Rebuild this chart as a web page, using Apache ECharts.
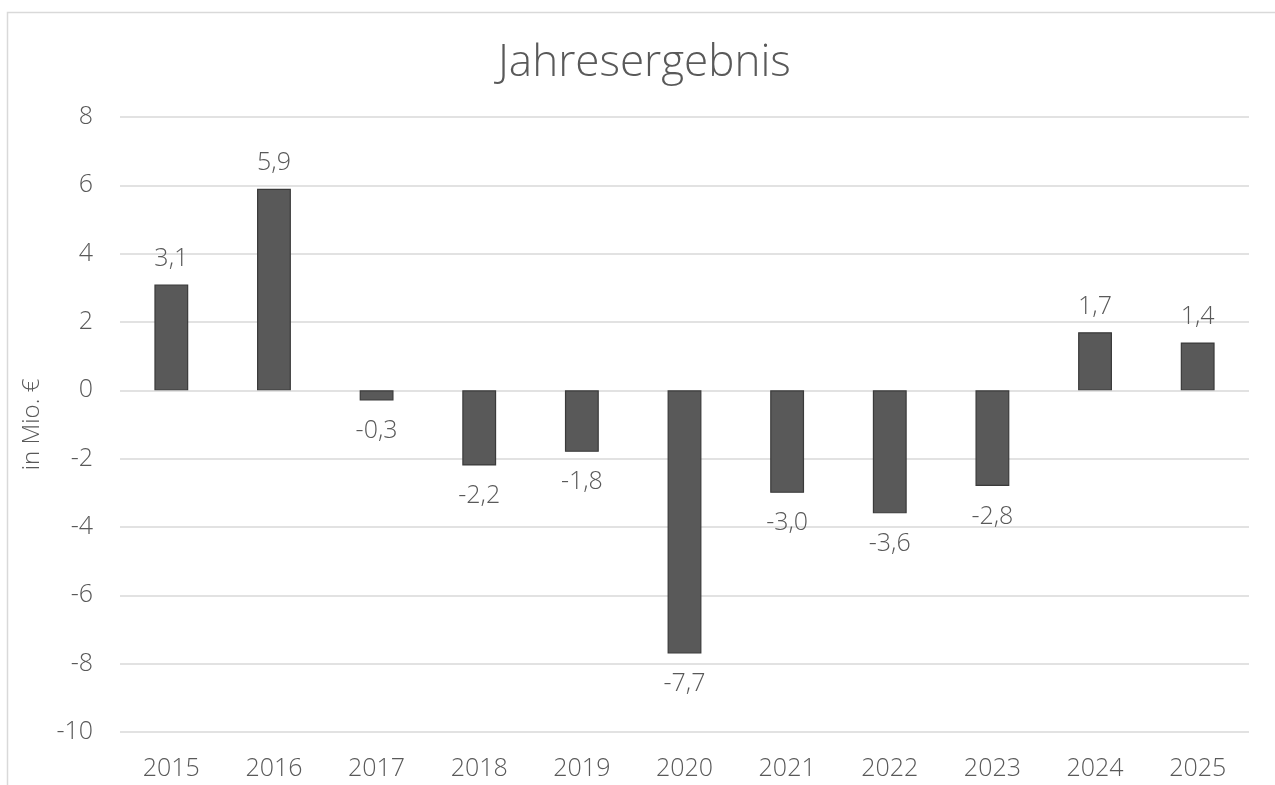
<!DOCTYPE html>
<html><head><meta charset="utf-8">
<script src="https://cdn.jsdelivr.net/npm/echarts@6/dist/echarts.min.js"></script>
<style>html,body{margin:0;padding:0;background:#fff}#c{width:1275px;height:785px}</style>
</head><body><div id="c"></div>
<script>
const categories = ['2015','2016','2017','2018','2019','2020','2021','2022','2023','2024','2025'];
const values = [3.1, 5.9, -0.3, -2.2, -1.8, -7.7, -3.0, -3.6, -2.8, 1.7, 1.4];
const yMin = -10, yMax = 8, yStep = 2;
const FONT = 'Open Sans';
const chart = echarts.init(document.getElementById('c'));
chart.setOption({
  animation: false,
  backgroundColor: '#fff',
  graphic: [{type:'rect', shape:{x:7.5,y:12.5,width:1300,height:800}, style:{fill:'none',stroke:'#d9d9d9',lineWidth:1.5}, silent:true}],
  title: {text:'Jahresergebnis', left:493, top:36, textStyle:{fontFamily:FONT, fontWeight:300, fontSize:44, color:'#595959'}},
  grid: {left:120, right:26, top:117, bottom:53},
  xAxis: {type:'category', data:categories, axisLine:{show:false}, axisTick:{show:false},
    axisLabel:{fontFamily:FONT, fontWeight:300, fontSize:25, color:'#595959', margin:24}},
  yAxis: {type:'value', min:yMin, max:yMax, interval:yStep,
    name:'in Mio. €', nameLocation:'middle', nameGap:76, nameRotate:90,
    nameTextStyle:{fontFamily:FONT, fontWeight:300, fontSize:24, color:'#595959'},
    axisLine:{show:false}, axisTick:{show:false},
    axisLabel:{fontFamily:FONT, fontWeight:300, fontSize:25, color:'#595959', margin:27},
    splitLine:{lineStyle:{color:'#d9d9d9', width:1.5}}},
  series: [{type:'bar',
    data: values.map(v => ({value: v, label: {distance: v < 0 ? 18 : 13}})),
    barWidth:'33%',
    itemStyle:{color:'#595959', borderColor:'#3a3a3a', borderWidth:1.2},
    label:{show:true, position:'outside', fontFamily:FONT, fontWeight:300, fontSize:25, color:'#595959',
      formatter: p => p.value.toFixed(1).replace('.', ',')}}]
});
</script></body></html>
